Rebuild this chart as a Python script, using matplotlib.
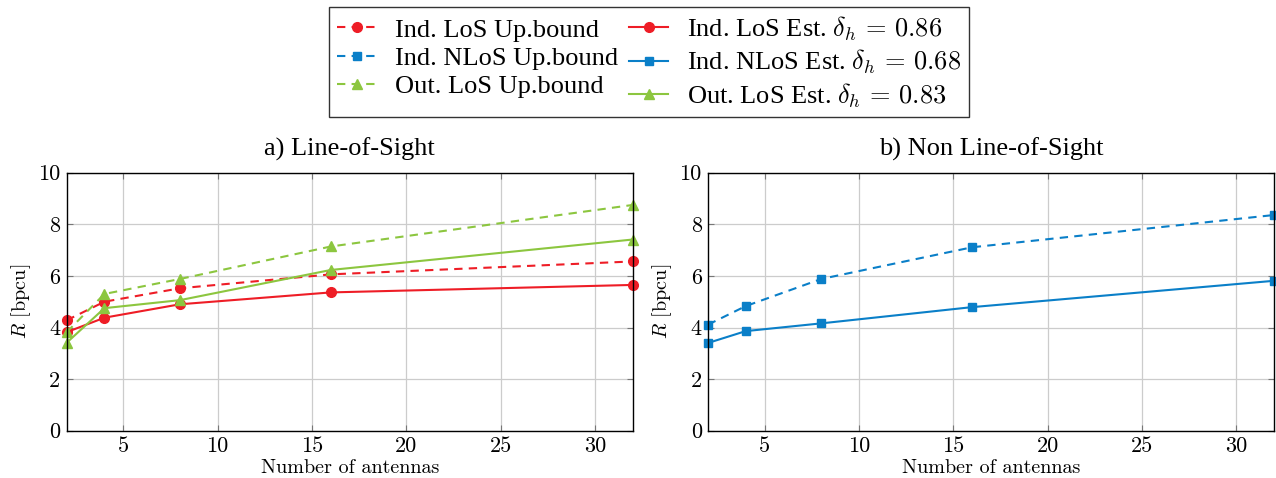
import numpy as np
import matplotlib
matplotlib.use('Agg')
import matplotlib.pyplot as plt

# Datos
antennas = [2, 4, 8, 16, 32]
ind_los_ub = [4.28, 5.00, 5.52, 6.06, 6.56]
ind_los_est = [3.82, 4.38, 4.90, 5.36, 5.65]
out_los_ub = [3.82, 5.30, 5.88, 7.14, 8.75]
out_los_est = [3.41, 4.75, 5.06, 6.23, 7.41]
ind_nlos_ub = [4.11, 4.83, 5.88, 7.11, 8.36]
ind_nlos_est = [3.40, 3.86, 4.16, 4.79, 5.81]

xticks = [5, 10, 15, 20, 25, 30]
yticks = [0, 2, 4, 6, 8, 10]

red = '#EE1D26'
blue = '#0A7FC8'
green = '#8CC63F'

plt.rcParams['font.family'] = ['Liberation Serif', 'DejaVu Serif']
plt.rcParams['mathtext.fontset'] = 'cm'

fig = plt.figure(figsize=(12.76, 4.78), dpi=100)
ax1 = fig.add_axes([66.7 / 1276, 47.3 / 478, 566.0 / 1276, 258.0 / 478])
ax2 = fig.add_axes([708.0 / 1276, 47.3 / 478, 566.0 / 1276, 258.0 / 478])

lw = 1.5
ms = 7
dash = (0, (4, 3))

h1, = ax1.plot(antennas, ind_los_ub, linestyle=dash, color=red, marker='o', lw=lw, ms=ms, clip_on=False)
h4, = ax1.plot(antennas, ind_los_est, '-', color=red, marker='o', lw=lw, ms=ms, clip_on=False)
h3, = ax1.plot(antennas, out_los_ub, linestyle=dash, color=green, marker='^', lw=lw, ms=ms, clip_on=False)
h6, = ax1.plot(antennas, out_los_est, '-', color=green, marker='^', lw=lw, ms=ms, clip_on=False)
h2, = ax2.plot(antennas, ind_nlos_ub, linestyle=dash, color=blue, marker='s', lw=lw, ms=ms - 1, clip_on=False)
h5, = ax2.plot(antennas, ind_nlos_est, '-', color=blue, marker='s', lw=lw, ms=ms - 1, clip_on=False)

for ax, title in [(ax1, 'a) Line-of-Sight'), (ax2, 'b) Non Line-of-Sight')]:
    ax.set_xlim(2, 32)
    ax.set_ylim(0, 10)
    ax.set_xticks(xticks)
    ax.set_yticks(yticks)
    ax.set_xticklabels([str(t) for t in xticks], fontsize=16, family='cmr10')
    ax.set_yticklabels([str(t) for t in yticks], fontsize=16, family='cmr10')
    ax.grid(True, color='#cccccc', lw=0.9)
    ax.set_axisbelow(True)
    ax.tick_params(direction='in', top=True, right=True, length=4, color='#777777', pad=4.5)
    ax.set_title(title, fontsize=19, pad=12)
    ax.set_xlabel('Number of antennas', fontsize=14.5, family='cmr10', labelpad=2)
    ax.set_ylabel('$R$ [bpcu]', fontsize=14.5, family='cmr10', labelpad=4)
    for s in ax.spines.values():
        s.set_linewidth(1.0)

handles = [h1, h2, h3, h4, h5, h6]
labels = ['Ind. LoS Up.bound', 'Ind. NLoS Up.bound', 'Out. LoS Up.bound',
          r'Ind. LoS Est. $\delta_h\,=\,0.86$', r'Ind. NLoS Est. $\delta_h\,=\,0.68$',
          r'Out. LoS Est. $\delta_h\,=\,0.83$']
leg = fig.legend(handles, labels, ncol=2, loc='upper center', bbox_to_anchor=(0.5086, 0.986),
                 fontsize=19, frameon=True, fancybox=False, edgecolor='black',
                 handlelength=1.5, handletextpad=0.7, columnspacing=0.4,
                 labelspacing=0.18, borderpad=0.3, borderaxespad=0)
leg.get_frame().set_linewidth(1.0)

fig.savefig('out.png', dpi=100)
